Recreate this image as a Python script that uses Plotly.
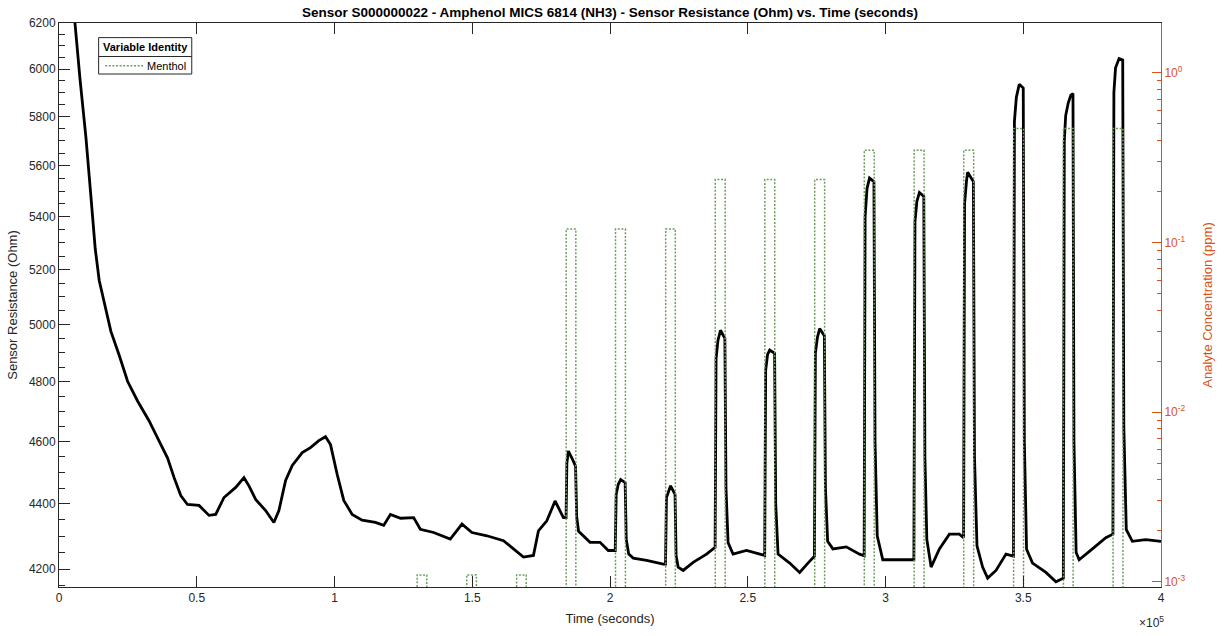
import plotly.graph_objects as go

# Sensor resistance trace (time in seconds, resistance in Ohm)
time_s = [
    0, 2500, 5540, 7600, 9780, 11500, 13150, 14600, 16400, 18840, 21850, 24890, 28510, 32720,
    35760, 39380, 41780, 44200, 46630, 50830, 54460, 56880, 59890, 64130, 67140,
    68950, 71380, 75000, 78000, 79820, 82250, 84670, 88300, 91300, 94310, 96740,
    98550, 100980, 103370, 106410, 110030, 114850, 117860, 120290, 124000, 128730,
    131160, 135980, 142030, 146270, 149890, 155330, 161340, 164960, 168590, 172210,
    174020, 177060, 180070, 183080,
    184050, 184350, 184890, 186120, 187500, 187900, 188600, 192750, 196380, 199380,
    201900, 202250, 203000, 203880, 205500, 205900, 206800, 208440, 213300, 219310,
    220150, 220500, 221990, 223600, 224000, 224740, 226560, 230180, 235040,
    238150, 238500, 239200, 240110, 241700, 242100, 242860, 244670, 249530, 255540,
    256150, 256500, 257200, 257970, 259750, 260150, 261000, 265220, 268840, 271850,
    274200, 274550, 275300, 276090, 277800, 278200, 279000, 280910, 285760, 290580,
    292250, 292600, 293300, 294200, 295800, 296200, 297000, 299020, 303870,
    310300, 310700, 311400, 312320, 313900, 314300, 315000, 316560, 319570, 323190,
    326810, 328350, 328700, 329400, 329820, 331900, 332300, 333200, 335250, 337070,
    340110, 343730, 346450, 346800, 347500, 348550, 350000, 350400, 351200, 353370,
    358230, 361850, 364550, 364900, 365400, 366300, 367280, 368050, 368400, 369200,
    370290, 375110, 379970, 382550, 382900, 383500, 384780, 386100, 386500, 387400,
    389600, 394450, 400000,
]
resistance_ohm = [
    7100, 6680, 6235, 5960, 5713, 5490, 5278, 5160, 5083, 4976, 4892, 4802, 4735, 4668,
    4612, 4547, 4483, 4426, 4398, 4395, 4364, 4367, 4420, 4452, 4483,
    4457, 4414, 4379, 4342, 4379, 4474, 4522, 4564, 4580, 4603, 4616,
    4590, 4493, 4411, 4367, 4349, 4342, 4333, 4367, 4355, 4357,
    4321, 4311, 4291, 4337, 4311, 4301, 4286, 4261, 4236, 4241,
    4316, 4347, 4409, 4357,
    4357, 4530, 4569, 4547, 4520, 4360, 4315, 4281, 4281, 4256,
    4256, 4430, 4462, 4477, 4467, 4290, 4245, 4233, 4226, 4215,
    4215, 4420, 4457, 4430, 4240, 4206, 4196, 4220, 4245,
    4266, 4880, 4945, 4980, 4951, 4450, 4280, 4245, 4256, 4241,
    4241, 4840, 4895, 4910, 4899, 4400, 4245, 4218, 4190, 4218,
    4239, 4900, 4955, 4986, 4961, 4450, 4284, 4261, 4267, 4245,
    4240, 5400, 5510, 5551, 5537, 4600, 4300, 4228, 4228,
    4228, 5380, 5460, 5494, 5479, 4550, 4290, 4206, 4261, 4306,
    4306, 4295, 5450, 5540, 5574, 5537, 4550, 4270, 4206, 4173,
    4196, 4245, 4239, 5780, 5880, 5935, 5919, 4600, 4260, 4218,
    4190, 4162, 4173, 5700, 5804, 5855, 5889, 5896, 4600, 4250,
    4228, 4261, 4295, 4306, 5900, 6005, 6045, 6039, 4650, 4320,
    4284, 4289, 4284,
]

# Menthol exposures: start / end time (s) and concentration (ppm)
pulse_start_s = [130000, 148000, 166100, 184100, 202000, 220200, 238200, 256200,
                 274300, 292300, 310400, 328400, 346500, 364600, 382600]
pulse_end_s = [133500, 151500, 169600, 187600, 205600, 223700, 241800, 259800,
               277900, 295900, 314000, 332000, 350100, 368100, 386200]
pulse_ppm = [0.0011, 0.0011, 0.0011, 0.12, 0.12, 0.12, 0.235, 0.235, 0.235,
             0.35, 0.35, 0.35, 0.47, 0.47, 0.47]
OFF_PPM = 1e-6  # no analyte: below the visible log range

# Axis ticks
x_tick_vals = [0, 50000, 100000, 150000, 200000, 250000, 300000, 350000, 400000]
x_tick_text = ["0", "0.5", "1", "1.5", "2", "2.5", "3", "3.5", "4"]
r_tick_vals = [4200, 4400, 4600, 4800, 5000, 5200, 5400, 5600, 5800, 6000, 6200]
c_tick_vals = [0.001, 0.01, 0.1, 1]
c_tick_text = ["10<sup>-3</sup>", "10<sup>-2</sup>", "10<sup>-1</sup>", "10<sup>0</sup>"]

menthol_x, menthol_y = [], []
for s, e, c in zip(pulse_start_s, pulse_end_s, pulse_ppm):
    menthol_x += [s, s, e, e]
    menthol_y += [OFF_PPM, c, c, OFF_PPM]

r_minor = [v for v in range(4150, 6201, 50) if v % 200 != 0]
c_minor = [m * 10.0 ** p for p in range(-4, 1) for m in range(2, 10)]

AXIS = "#262626"
ORANGE = "#D95319"
GREEN = "#6E9E5E"
FONT = "Liberation Sans, Arial, Helvetica, sans-serif"

# plot-area pixel frame used to place the hand-built legend
PX_L, PX_R, PX_T, PX_B = 58, 1162, 23, 590


def px(xp, yp):
    return (xp - PX_L) / (PX_R - PX_L), (PX_B - yp) / (PX_B - PX_T)


fig = go.Figure()
fig.add_trace(go.Scatter(
    x=time_s, y=resistance_ohm, mode="lines", name="Sensor S000000022",
    line=dict(color="black", width=2.8), showlegend=False, yaxis="y",
))
fig.add_trace(go.Scatter(
    x=menthol_x, y=menthol_y, mode="lines", name="Menthol",
    line=dict(color=GREEN, width=1.5, dash="2px,1.6px"), showlegend=False, yaxis="y2",
))

# legend box: "Variable Identity" header over the Menthol entry
lx0, ly0 = px(97.7, 74.3)
lx1, ly1 = px(191, 37.7)
_, sep_y = px(0, 56.7)
tx, ty = px(144.5, 47.3)
sx0, sy = px(104.3, 66)
sx1, _ = px(142.3, 66)
mx, _ = px(144.3, 66)
fig.add_shape(type="rect", xref="paper", yref="paper", x0=lx0, x1=lx1, y0=ly0, y1=ly1,
              line=dict(color=AXIS, width=1), fillcolor="white", layer="above")
fig.add_shape(type="line", xref="paper", yref="paper", x0=lx0, x1=lx1, y0=sep_y, y1=sep_y,
              line=dict(color=AXIS, width=1), layer="above")
fig.add_shape(type="line", xref="paper", yref="paper", x0=sx0, x1=sx1, y0=sy, y1=sy,
              line=dict(color=GREEN, width=1.5, dash="2px,1.6px"), layer="above")
fig.add_annotation(text="<b>Variable Identity</b>", xref="paper", yref="paper", x=tx, y=ty,
                   xanchor="center", yanchor="middle", showarrow=False,
                   font=dict(size=11, color="black", family=FONT))
fig.add_annotation(text="Menthol", xref="paper", yref="paper", x=mx, y=sy,
                   xanchor="left", yanchor="middle", showarrow=False,
                   font=dict(size=11, color="black", family=FONT))

# x-axis exponent marker
ex, ey = px(1152, 625)
fig.add_annotation(text="×10<sup>5</sup>", xref="paper", yref="paper", x=ex, y=ey,
                   xanchor="center", yanchor="middle", showarrow=False,
                   font=dict(size=12, color=AXIS, family=FONT))

fig.update_layout(
    width=1225, height=636,
    margin=dict(l=PX_L, r=1225 - PX_R, t=PX_T, b=636 - PX_B),
    paper_bgcolor="white", plot_bgcolor="white",
    font=dict(family=FONT, size=12, color=AXIS),
    title=dict(
        text="<b>Sensor S000000022 - Amphenol MICS 6814 (NH3) - Sensor Resistance (Ohm) vs. Time (seconds)</b>",
        x=0.5, xref="paper", xanchor="center", y=1 - 12 / 636, yref="container",
        yanchor="middle", font=dict(size=13.5, color="black", family=FONT),
    ),
    xaxis=dict(
        range=[0, 400000], tickmode="array", tickvals=x_tick_vals, ticktext=x_tick_text,
        ticks="inside", ticklen=11, tickcolor=AXIS, tickwidth=1,
        showline=True, linecolor=AXIS, linewidth=1, mirror="ticks",
        showgrid=False, zeroline=False, tickfont=dict(size=12, color=AXIS),
        title=dict(text="Time (seconds)", font=dict(size=13, color=AXIS), standoff=9),
    ),
    yaxis=dict(
        type="log", range=[3.6177, 3.7924], tickmode="array", tickvals=r_tick_vals,
        ticks="inside", ticklen=11, tickcolor=AXIS, tickwidth=1,
        showline=True, linecolor=AXIS, linewidth=1,
        showgrid=False, zeroline=False, tickfont=dict(size=12, color=AXIS),
        minor=dict(tickmode="array", tickvals=r_minor, ticks="inside", ticklen=6,
                   tickcolor=AXIS, showgrid=False),
        title=dict(text="Sensor Resistance (Ohm)", font=dict(size=13, color=AXIS), standoff=8),
    ),
    yaxis2=dict(
        type="log", overlaying="y", side="right", range=[-3.03, 0.294],
        tickmode="array", tickvals=c_tick_vals, ticktext=c_tick_text,
        ticks="inside", ticklen=9, tickcolor=ORANGE, tickwidth=1,
        showline=True, linecolor=ORANGE, linewidth=1,
        showgrid=False, zeroline=False, tickfont=dict(size=12, color=ORANGE),
        minor=dict(tickmode="array", tickvals=c_minor, ticks="inside", ticklen=4,
                   tickcolor=ORANGE, showgrid=False),
        title=dict(text="Analyte Concentration (ppm)", font=dict(size=13, color=ORANGE), standoff=18),
    ),
    showlegend=False,
)

fig.write_html("out.html")
